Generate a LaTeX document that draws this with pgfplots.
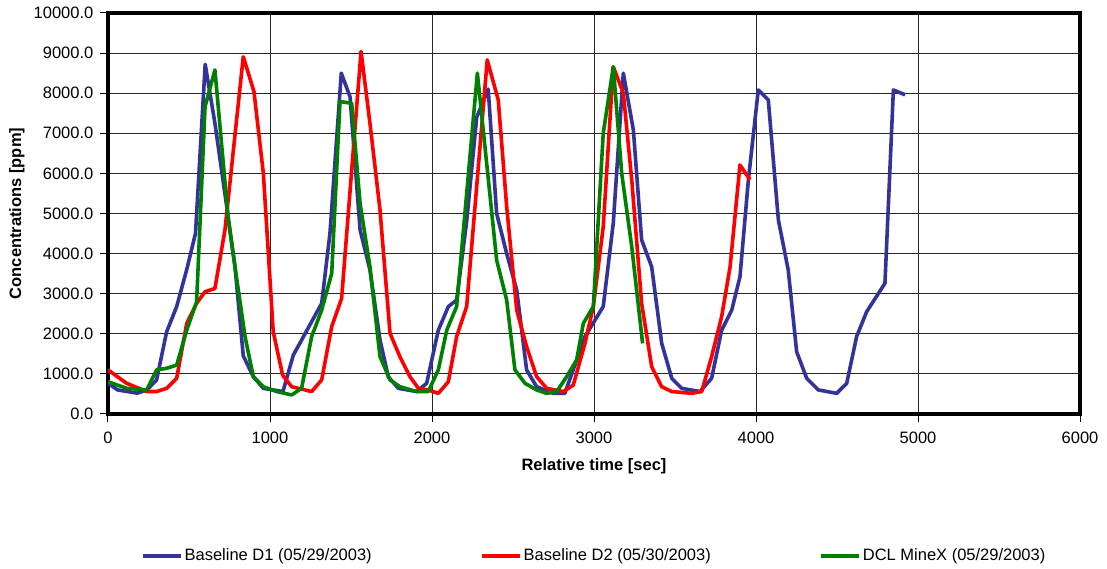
\documentclass[border=0pt]{standalone}
\usepackage{pgfplots}
\pgfplotsset{compat=1.18}
\usepackage{fontspec}
\setmainfont{Liberation Sans}
\usetikzlibrary{calc}
\definecolor{cblue}{RGB}{51,51,153}
\definecolor{cred}{RGB}{255,0,0}
\definecolor{cgreen}{RGB}{0,128,0}
\begin{document}
\fontsize{16.5}{19}\selectfont
\begin{tikzpicture}
\begin{axis}[
  name=ax,
  at={(0,0)}, anchor=south west,
  scale only axis,
  width=972pt, height=401pt,
  xmin=0, xmax=6000, ymin=0, ymax=10000,
  xtick={0,1000,...,6000},
  ytick={0,1000,...,10000},
  scaled y ticks=false, scaled x ticks=false,
  xtick pos=left, ytick pos=left,
  tick align=outside,
  major tick length=8pt,
  every tick/.style={black, line width=1pt},
  axis line style={line width=4pt, black},
  grid=major,
  major grid style={black!85, line width=0.9pt},
  /pgf/number format/assume math mode=true,
  xticklabel style={/pgf/number format/fixed, /pgf/number format/precision=0, /pgf/number format/1000 sep={}},
  yticklabel style={/pgf/number format/fixed, /pgf/number format/fixed zerofill, /pgf/number format/precision=1, /pgf/number format/1000 sep={}},
  ticklabel style={font=\fontsize{16.5}{19}\selectfont},
  xticklabel shift=4pt,
  yticklabel shift=1pt,
  xlabel={\textbf{Relative time [sec]}},
  ylabel={\textbf{Concentrations [ppm]}},
  label style={font=\fontsize{16.5}{19}\selectfont},
  xlabel style={yshift=-4pt},
  ylabel style={yshift=-2pt},
  legend columns=3,
  legend style={draw=none, at={(0.5,-0.354)}, anchor=center,
    font=\fontsize{16.5}{19}\selectfont,
    /tikz/every even column/.append style={column sep=106pt}},
  legend image code/.code={\draw[#1, line width=4pt] (0pt,0pt) -- (38pt,0pt);},
  every axis plot/.append style={line width=3.6pt, line join=round},
]
\addplot[cblue] coordinates {
(0,765) (60,600) (180,520) (240,600) (300,850) (362,2050) (424,2680) (486,3600) (540,4500)
(600,8720) (660,7250) (733,5170) (784,3670) (835,1450) (897,930) (959,640) (1080,560)
(1144,1470) (1185,1770) (1250,2250) (1319,2760) (1370,4500) (1440,8500) (1494,7910)
(1556,4590) (1617,3590) (1679,1850) (1730,930) (1792,640) (1905,560) (1967,765)
(2039,2090) (2101,2680) (2152,2840) (2214,4800) (2276,7400) (2347,8100) (2399,5000)
(2461,4000) (2523,3090) (2584,1100) (2646,680) (2749,515) (2820,515) (2880,1200)
(2944,1930) (3006,2340) (3057,2680) (3119,4760) (3181,8500) (3243,7080) (3294,4340)
(3356,3670) (3418,1760) (3480,890) (3541,640) (3654,560) (3726,890) (3788,2090)
(3850,2590) (3901,3420) (3953,5840) (4014,8080) (4076,7830) (4138,4840) (4199,3590)
(4251,1550) (4313,890) (4385,600) (4498,515) (4560,765) (4621,1930) (4683,2550)
(4796,3260) (4848,8080) (4920,7960)
};
\addlegendentry{Baseline D1 (05/29/2003)}
\addplot[cred] coordinates {
(0,1100) (115,765) (239,560) (300,560) (362,640) (424,890) (486,2260) (547,2760)
(599,3050) (660,3130) (722,4590) (835,8910) (901,8040) (959,6000) (1020,2050)
(1078,970) (1134,680) (1257,560) (1319,850) (1381,2180) (1442,2880) (1562,9040)
(1617,7250) (1679,5090) (1741,2010) (1802,1430) (1864,930) (1916,640) (1977,600)
(2039,515) (2101,805) (2152,1930) (2214,2680) (2341,8830) (2409,7830) (2461,5170)
(2523,2590) (2584,1680) (2646,930) (2708,640) (2811,560) (2872,720) (2944,1760)
(2996,2680) (3057,4670) (3119,8660) (3181,8000) (3233,5840) (3294,2760) (3356,1180)
(3418,680) (3480,560) (3603,515) (3665,560) (3726,1430) (3788,2430) (3840,3670)
(3901,6210) (3963,5840)
};
\addlegendentry{Baseline D2 (05/30/2003)}
\addplot[cgreen] coordinates {
(0,805) (115,640) (239,600) (300,1100) (362,1140) (424,1220) (486,2090) (547,2800)
(599,7660) (660,8580) (743,4840) (784,3670) (846,1930) (897,930) (959,680) (1041,560)
(1134,475) (1195,640) (1257,1930) (1319,2590) (1381,3510) (1432,7790) (1504,7750)
(1556,5250) (1617,3670) (1679,1430) (1741,850) (1802,680) (1905,560) (1977,560)
(2039,1100) (2091,2090) (2152,2680) (2280,8500) (2399,3840) (2461,2840) (2512,1100)
(2574,765) (2646,600) (2708,515) (2770,560) (2831,930) (2893,1350) (2934,2260)
(2996,2680) (3057,7000) (3119,8660) (3171,6000) (3233,4170) (3300,1760)
};
\addlegendentry{DCL MineX (05/29/2003)}
\end{axis}
\pgfresetboundingbox
\path[use as bounding box] ($(ax.south west)+(-108pt,-155pt)$) rectangle ($(ax.north east)+(27pt,13pt)$);
\end{tikzpicture}
\end{document}
